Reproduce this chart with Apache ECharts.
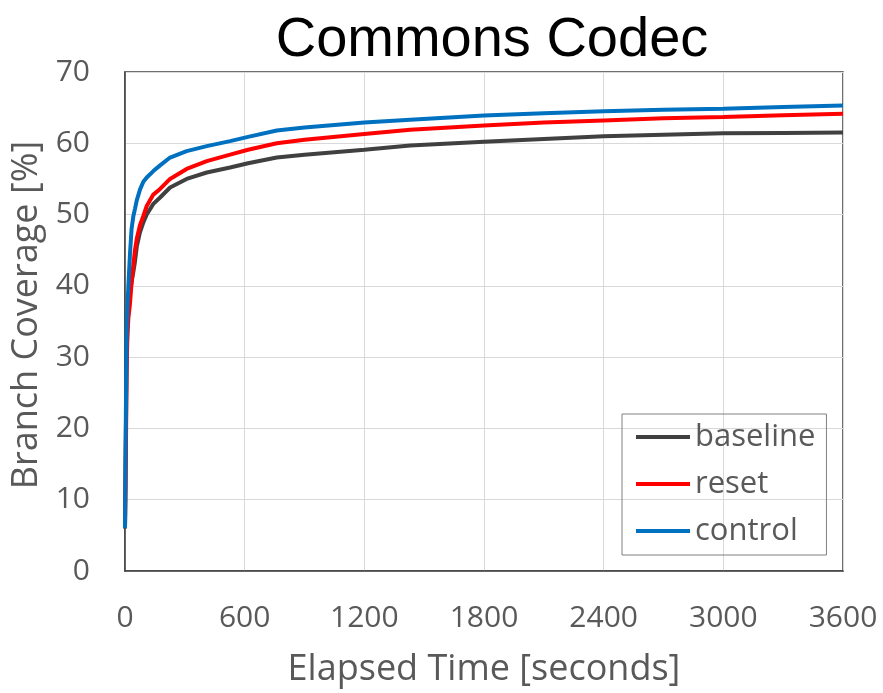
<!DOCTYPE html>
<html>
<head>
    <meta charset="UTF-8">
    <title>Commons Codec</title>
    <script src="https://cdn.jsdelivr.net/npm/echarts@6/dist/echarts.min.js"></script>
    <style>
        html, body { margin: 0; padding: 0; background: #fff; }
        #chart { width: 883px; height: 693px; }
    </style>
</head>
<body>
    <div id="chart"></div>
    <script type="text/javascript">
        // elapsed time in seconds
        const timePoints = [0, 3, 8, 12, 17, 25, 33, 42, 50, 59, 75, 92, 109, 142, 176, 226, 309, 410, 527, 617, 761, 900, 1200, 1430, 1800, 2100, 2400, 2700, 3000, 3300, 3600];

        // branch coverage [%]
        const baseline = [6, 15, 30, 34, 37, 39, 40.5, 42, 43.4, 45.5, 47.5, 48.9, 50.0, 51.5, 52.4, 53.8, 55.0, 55.9, 56.6, 57.2, 58.0, 58.4, 59.1, 59.7, 60.2, 60.6, 61.0, 61.2, 61.4, 61.45, 61.5];
        const reset    = [6, 12, 28, 33, 35.5, 37.5, 40.5, 43, 45, 46.6, 48.5, 49.8, 51.2, 52.8, 53.6, 55.0, 56.4, 57.5, 58.4, 59.1, 60.0, 60.5, 61.3, 61.9, 62.5, 62.9, 63.2, 63.5, 63.7, 63.95, 64.15];
        const control  = [6, 18, 33, 37, 40, 44.5, 48, 49.8, 50.8, 52, 53.5, 54.6, 55.2, 56.1, 56.9, 58.0, 58.9, 59.6, 60.3, 60.9, 61.8, 62.2, 62.9, 63.3, 63.9, 64.2, 64.5, 64.7, 64.85, 65.1, 65.3];

        const seriesNames = ['baseline', 'reset', 'control'];
        const seriesColors = ['#404040', '#ff0000', '#0070c0'];

        function pairs(values) {
            return timePoints.map((t, i) => [t, values[i]]);
        }

        var mychart = echarts.init(document.getElementById('chart'), null, {renderer: 'canvas'});

        const font = '"Open Sans", "Noto Sans", sans-serif';
        const gray = '#595959';

        var option = {
            animation: false,
            backgroundColor: '#fff',
            title: {
                text: 'Commons Codec',
                left: 487,
                top: 8,
                textAlign: 'center',
                textStyle: {
                    color: '#000',
                    fontFamily: '"Liberation Sans", sans-serif',
                    fontWeight: 'normal',
                    fontSize: 56
                }
            },
            legend: {
                orient: 'vertical',
                left: 622,
                top: 414,
                padding: [5, 11, 6, 14],
                borderColor: '#808080',
                borderWidth: 1,
                icon: 'rect',
                itemWidth: 54,
                itemHeight: 4,
                itemGap: 11,
                textStyle: {
                    color: gray,
                    fontFamily: font,
                    fontSize: 31,
                    lineHeight: 36,
                    padding: [0, 0, 0, 0]
                },
                data: seriesNames
            },
            grid: {
                left: 125,
                top: 72,
                right: 40,
                bottom: 118,
                show: true,
                borderColor: '#404040',
                borderWidth: 1.5
            },
            xAxis: {
                type: 'value',
                min: 0,
                max: 3600,
                interval: 600,
                name: 'Elapsed Time [seconds]',
                nameLocation: 'middle',
                nameGap: 81,
                nameTextStyle: { color: gray, fontFamily: font, fontSize: 36 },
                axisLine: { show: true, lineStyle: { color: '#404040', width: 1.5 } },
                axisTick: { show: false },
                axisLabel: {
                    color: gray, fontFamily: font, fontSize: 30, margin: 32,
                    formatter: function (v) { return String(v); }
                },
                splitLine: { show: true, lineStyle: { color: '#d9d9d9', width: 1 } }
            },
            yAxis: {
                type: 'value',
                min: 0,
                max: 70,
                interval: 10,
                name: 'Branch Coverage [%]',
                nameLocation: 'middle',
                nameGap: 80,
                nameTextStyle: { color: gray, fontFamily: font, fontSize: 36, padding: [0, 0, 0, 13] },
                axisLine: { show: true, lineStyle: { color: '#404040', width: 1.5 } },
                axisTick: { show: false },
                axisLabel: { color: gray, fontFamily: font, fontSize: 30, margin: 35 },
                splitLine: { show: true, lineStyle: { color: '#d9d9d9', width: 1 } }
            },
            series: seriesNames.map((name, i) => ({
                name: name,
                type: 'line',
                data: pairs([baseline, reset, control][i]),
                symbol: 'none',
                color: seriesColors[i],
                lineStyle: { color: seriesColors[i], width: 4 }
            }))
        };

        mychart.setOption(option);
    </script>
</body>
</html>
